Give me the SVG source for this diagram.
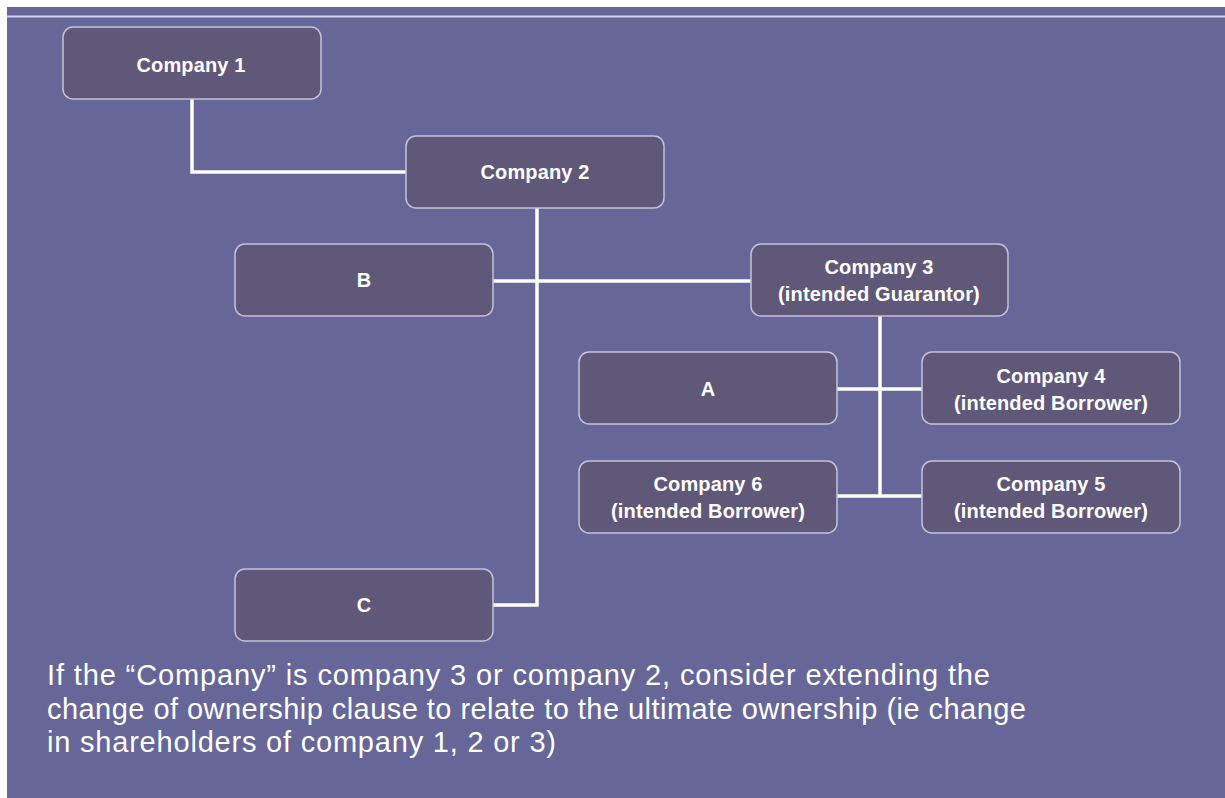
<svg xmlns="http://www.w3.org/2000/svg" width="1225" height="798" viewBox="0 0 1225 798">
<style>
.box{fill:#5f5879;stroke:#c4c2dc;stroke-width:1.5}
.lbl{font-family:"Liberation Sans",Arial,sans-serif;font-weight:bold;font-size:20px;letter-spacing:0.15px;fill:#ffffff;text-anchor:middle}
.conn{fill:none;stroke:#ffffff;stroke-width:3.5}
.note{font-family:"Liberation Sans",Arial,sans-serif;font-size:29px;fill:#ffffff}
</style>
<rect x="0" y="0" width="1225" height="798" fill="#ffffff"/>
<rect x="7" y="7" width="1218" height="791" fill="#666699"/>
<line x1="7" y1="16.5" x2="1225" y2="16.5" stroke="#d4d4f0" stroke-width="2"/>
<g id="connectors">
<polyline class="conn" points="192,99 192,172 406,172"/>
<polyline class="conn" points="537,208 537,605 493,605"/>
<line class="conn" x1="493" y1="281" x2="751" y2="281"/>
<line class="conn" x1="880" y1="316" x2="880" y2="496"/>
<line class="conn" x1="837" y1="389" x2="922" y2="389"/>
<line class="conn" x1="837" y1="496" x2="922" y2="496"/>
</g>
<g id="company1"><rect class="box" x="63" y="27" width="258" height="72" rx="10"/><text class="lbl" x="191" y="72">Company 1</text></g>
<g id="company2"><rect class="box" x="406" y="136" width="258" height="72" rx="10"/><text class="lbl" x="535" y="179">Company 2</text></g>
<g id="B"><rect class="box" x="235" y="244" width="258" height="72" rx="10"/><text class="lbl" x="364" y="287">B</text></g>
<g id="company3"><rect class="box" x="751" y="244" width="257" height="72" rx="10"/><text class="lbl" x="879" y="274">Company 3</text><text class="lbl" x="879" y="301">(intended Guarantor)</text></g>
<g id="A"><rect class="box" x="579" y="352" width="258" height="72" rx="10"/><text class="lbl" x="708" y="396">A</text></g>
<g id="company4"><rect class="box" x="922" y="352" width="258" height="72" rx="10"/><text class="lbl" x="1051" y="383">Company 4</text><text class="lbl" x="1051" y="410">(intended Borrower)</text></g>
<g id="company6"><rect class="box" x="579" y="461" width="258" height="72" rx="10"/><text class="lbl" x="708" y="491">Company 6</text><text class="lbl" x="708" y="518">(intended Borrower)</text></g>
<g id="company5"><rect class="box" x="922" y="461" width="258" height="72" rx="10"/><text class="lbl" x="1051" y="491">Company 5</text><text class="lbl" x="1051" y="518">(intended Borrower)</text></g>
<g id="C"><rect class="box" x="235" y="569" width="258" height="72" rx="10"/><text class="lbl" x="364" y="612">C</text></g>
<text class="note" x="47" y="685" textLength="943" lengthAdjust="spacing">If the “Company” is company 3 or company 2, consider extending the</text>
<text class="note" x="47" y="719" textLength="979" lengthAdjust="spacing">change of ownership clause to relate to the ultimate ownership (ie change</text>
<text class="note" x="47" y="752" textLength="509" lengthAdjust="spacing">in shareholders of company 1, 2 or 3)</text>
</svg>
